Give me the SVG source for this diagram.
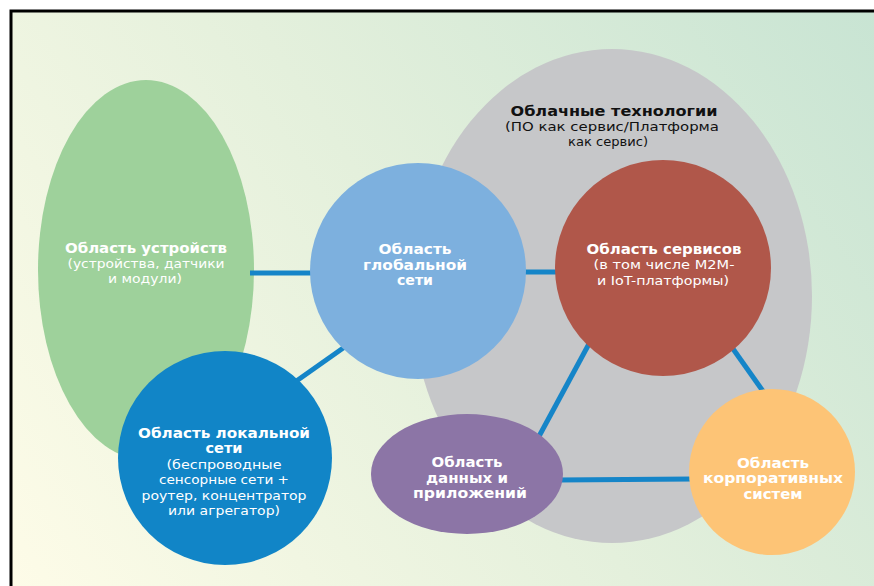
<svg xmlns="http://www.w3.org/2000/svg" width="874" height="586" viewBox="0 0 874 586">
  <defs>
    <linearGradient id="bg" gradientUnits="userSpaceOnUse" x1="0" y1="586" x2="874" y2="0">
      <stop offset="0" stop-color="#fefce8"/>
      <stop offset="0.5" stop-color="#e4f0dc"/>
      <stop offset="1" stop-color="#c8e4d3"/>
    </linearGradient>
    <style>
      .t { font-family: "DejaVu Sans", "Liberation Sans", sans-serif; text-anchor: middle; }
      .b { font-weight: bold; font-size: 14px; }
      .r { font-size: 13px; }
      .w { fill: #ffffff; }
      .k { fill: #111111; }
      .conn line { stroke: #1585c8; stroke-width: 5; stroke-linecap: butt; }
    </style>
  </defs>
  <rect x="0" y="0" width="874" height="586" fill="#ffffff"/>
  <rect x="11" y="11" width="900" height="600" fill="url(#bg)" stroke="#000000" stroke-width="3"/>

  <g id="devices">
    <ellipse cx="146" cy="270" rx="108" ry="190" fill="#9ed19b"/>
  </g>
  <g id="cloud">
    <ellipse cx="612" cy="296" rx="200" ry="247" fill="#c6c7c9"/>
    <text class="t b k" x="614" y="116" textLength="207" lengthAdjust="spacingAndGlyphs">Облачные технологии</text>
    <text class="t r k" x="612" y="131" textLength="214" lengthAdjust="spacingAndGlyphs">(ПО как сервис/Платформа</text>
    <text class="t r k" x="608" y="146" textLength="80" lengthAdjust="spacingAndGlyphs">как сервис)</text>
  </g>

  <g id="connectors" class="conn">
    <line x1="250" y1="273" x2="315" y2="273"/>
    <line x1="520" y1="272" x2="560" y2="272"/>
    <line x1="346" y1="346" x2="295" y2="382"/>
    <line x1="590" y1="342" x2="537" y2="440"/>
    <line x1="731" y1="346" x2="765" y2="394"/>
    <line x1="558" y1="480" x2="693" y2="479"/>
  </g>

  <g id="devices-label">
    <text class="t b w" x="146" y="253" textLength="162" lengthAdjust="spacingAndGlyphs">Область устройств</text>
    <text class="t r w" x="146" y="268" textLength="157" lengthAdjust="spacingAndGlyphs">(устройства, датчики</text>
    <text class="t r w" x="145" y="283" textLength="74" lengthAdjust="spacingAndGlyphs">и модули)</text>
  </g>

  <g id="global">
    <circle cx="418" cy="271" r="108" fill="#7db0de"/>
    <text class="t b w" x="415" y="254" textLength="73" lengthAdjust="spacingAndGlyphs">Область</text>
    <text class="t b w" x="415" y="270" textLength="104" lengthAdjust="spacingAndGlyphs">глобальной</text>
    <text class="t b w" x="415" y="285" textLength="36" lengthAdjust="spacingAndGlyphs">сети</text>
  </g>

  <g id="services">
    <circle cx="663" cy="268" r="108" fill="#b0574a"/>
    <text class="t b w" x="664" y="254" textLength="155" lengthAdjust="spacingAndGlyphs">Область сервисов</text>
    <text class="t r w" x="664" y="269" textLength="141" lengthAdjust="spacingAndGlyphs">(в том числе M2M-</text>
    <text class="t r w" x="663" y="285" textLength="132" lengthAdjust="spacingAndGlyphs">и IoT-платформы)</text>
  </g>

  <g id="local">
    <circle cx="225" cy="458" r="107" fill="#1185c7"/>
    <text class="t b w" x="224" y="438" textLength="172" lengthAdjust="spacingAndGlyphs">Область локальной</text>
    <text class="t b w" x="224" y="453" textLength="37" lengthAdjust="spacingAndGlyphs">сети</text>
    <text class="t r w" x="224" y="469" textLength="115" lengthAdjust="spacingAndGlyphs">(беспроводные</text>
    <text class="t r w" x="224" y="484" textLength="130" lengthAdjust="spacingAndGlyphs">сенсорные сети +</text>
    <text class="t r w" x="224" y="500" textLength="165" lengthAdjust="spacingAndGlyphs">роутер, концентратор</text>
    <text class="t r w" x="224" y="515" textLength="112" lengthAdjust="spacingAndGlyphs">или агрегатор)</text>
  </g>

  <g id="data">
    <ellipse cx="467" cy="474" rx="96" ry="60" fill="#8c75a6"/>
    <text class="t b w" x="467" y="467" textLength="71" lengthAdjust="spacingAndGlyphs">Область</text>
    <text class="t b w" x="467" y="483" textLength="82" lengthAdjust="spacingAndGlyphs">данных и</text>
    <text class="t b w" x="470" y="498" textLength="114" lengthAdjust="spacingAndGlyphs">приложений</text>
  </g>

  <g id="corporate">
    <circle cx="772" cy="472" r="83" fill="#fdc476"/>
    <text class="t b w" x="773" y="468" textLength="72" lengthAdjust="spacingAndGlyphs">Область</text>
    <text class="t b w" x="773" y="483" textLength="140" lengthAdjust="spacingAndGlyphs">корпоративных</text>
    <text class="t b w" x="773" y="499" textLength="59" lengthAdjust="spacingAndGlyphs">систем</text>
  </g>
</svg>
